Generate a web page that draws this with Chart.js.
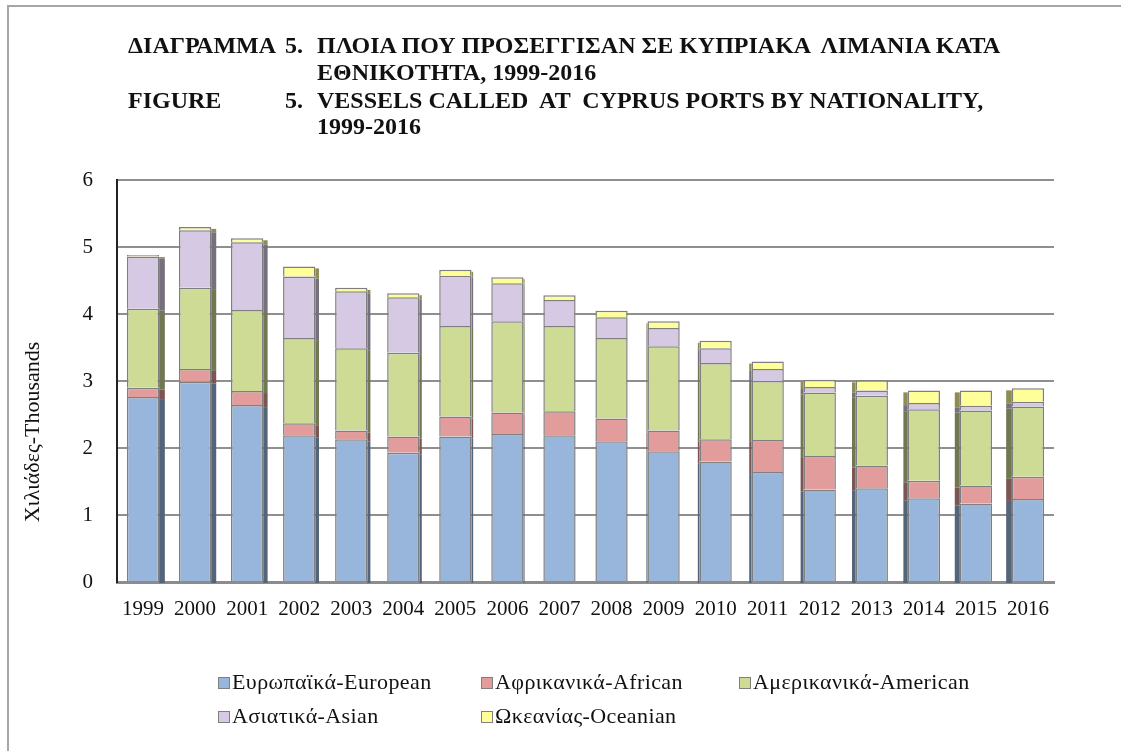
<!DOCTYPE html>
<html lang="el">
<head>
    <meta charset="UTF-8">
    <title>Vessels called at Cyprus ports by nationality</title>
    <script src="https://cdn.jsdelivr.net/npm/chart.js@4"></script>
</head>
<style>
    body {
        margin: 0;
        background-color: #ffffff;
    }

    .wrap {
        position: relative;
        width: 1121px;
        height: 751px;
        font-family: 'Liberation Serif', 'DejaVu Serif', serif;
        color: #111111;
    }

    .frame {
        position: absolute;
        left: 7px;
        top: 5px;
        right: 0;
        bottom: 0;
        border-top: 2px solid #a6a6a6;
        border-left: 2px solid #a6a6a6;
    }

    canvas {
        position: absolute;
        left: 0;
        top: 0;
    }

    .t {
        position: absolute;
        font-weight: bold;
        font-size: 24px;
        line-height: 1;
        white-space: pre;
    }

    .ytitle {
        position: absolute;
        left: 32px;
        top: 432px;
        font-size: 22px;
        white-space: nowrap;
        transform: translate(-50%, -50%) rotate(-90deg);
    }

    .leg {
        position: absolute;
        font-size: 22px;
        letter-spacing: 0.4px;
        line-height: 1;
        white-space: nowrap;
    }

    .leg i {
        display: inline-block;
        width: 10px;
        height: 10px;
        border: 1px solid #7f7f7f;
        margin-right: 2px;
        vertical-align: 0px;
    }
</style>
<body>
    <div class="wrap">
        <canvas id="chart" width="1121" height="751"></canvas>
        <div class="frame"></div>

        <div class="t" style="left:128px; top:33px;">ΔΙΑΓΡΑΜΜΑ</div>
        <div class="t" style="left:285px; top:33px;">5.</div>
        <div class="t" style="left:317px; top:33px;">ΠΛΟΙΑ ΠΟΥ ΠΡΟΣΕΓΓΙΣΑΝ ΣΕ ΚΥΠΡΙΑΚΑ  ΛΙΜΑΝΙΑ ΚΑΤΑ</div>
        <div class="t" style="left:317px; top:60px;">ΕΘΝΙΚΟΤΗΤΑ, 1999-2016</div>
        <div class="t" style="left:128px; top:88px;">FIGURE</div>
        <div class="t" style="left:285px; top:88px;">5.</div>
        <div class="t" style="left:317px; top:88px;">VESSELS CALLED  AT  CYPRUS PORTS BY NATIONALITY,</div>
        <div class="t" style="left:317px; top:114px;">1999-2016</div>

        <div class="ytitle">Χιλιάδες-Thousands</div>

        <div id="legend"></div>
    </div>

    <script>
        const years = ['1999', '2000', '2001', '2002', '2003', '2004', '2005', '2006', '2007',
                       '2008', '2009', '2010', '2011', '2012', '2013', '2014', '2015', '2016'];

        // thousands of vessels
        const european = [2.76, 2.99, 2.64, 2.19, 2.13, 1.93, 2.17, 2.21, 2.19, 2.10, 1.95, 1.80, 1.64, 1.38, 1.40, 1.25, 1.17, 1.24];
        const african  = [0.14, 0.19, 0.21, 0.18, 0.13, 0.24, 0.30, 0.32, 0.36, 0.34, 0.31, 0.33, 0.48, 0.50, 0.34, 0.26, 0.27, 0.33];
        const american = [1.18, 1.21, 1.21, 1.27, 1.23, 1.25, 1.35, 1.36, 1.27, 1.20, 1.26, 1.14, 0.88, 0.95, 1.04, 1.07, 1.12, 1.05];
        const asian    = [0.78, 0.86, 1.01, 0.92, 0.85, 0.83, 0.75, 0.57, 0.39, 0.31, 0.27, 0.22, 0.18, 0.08, 0.08, 0.09, 0.07, 0.07];
        const oceanian = [0.02, 0.05, 0.06, 0.15, 0.05, 0.06, 0.09, 0.09, 0.07, 0.10, 0.10, 0.11, 0.11, 0.11, 0.15, 0.19, 0.23, 0.20];

        const seriesNames = ['Ευρωπαϊκά-European', 'Αφρικανικά-African', 'Αμερικανικά-American',
                             'Ασιατικά-Asian', 'Ωκεανίας-Oceanian'];
        const seriesColors = ['#98b6dc', '#e29c9b', '#cddb94', '#d6c9e4', '#ffff99'];
        const yTicks = [0, 1, 2, 3, 4, 5, 6];

        // legend placement (two rows, like the original)
        const legendPos = [[218, 671], [481, 671], [739, 671], [218, 705], [481, 705]];
        const legendDiv = document.getElementById('legend');
        seriesNames.forEach((name, i) => {
            const d = document.createElement('div');
            d.className = 'leg';
            d.style.left = legendPos[i][0] + 'px';
            d.style.top = legendPos[i][1] + 'px';
            d.innerHTML = '<i style="background:' + seriesColors[i] + '"></i>' + name;
            legendDiv.appendChild(d);
        });

        function shade(hex, f) {
            const n = parseInt(hex.slice(1), 16);
            const r = Math.round(((n >> 16) & 255) * f);
            const g = Math.round(((n >> 8) & 255) * f);
            const b = Math.round((n & 255) * f);
            return 'rgb(' + r + ',' + g + ',' + b + ')';
        }

        // thin side faces so the bars keep a bit of the old 3D look
        const sideFaces = {
            id: 'sideFaces',
            beforeDatasetsDraw(chart) {
                const ctx = chart.ctx;
                const area = chart.chartArea;
                const mid = (area.left + area.right) / 2;
                ctx.save();
                chart.data.datasets.forEach((ds, di) => {
                    const meta = chart.getDatasetMeta(di);
                    meta.data.forEach(bar => {
                        const half = bar.width / 2;
                        const depth = 6 * (mid - bar.x) / (mid - area.left);
                        const top = Math.min(bar.y, bar.base);
                        const h = Math.abs(bar.base - bar.y);
                        ctx.fillStyle = shade(ds.backgroundColor, 0.55);
                        if (depth > 0.8) {
                            ctx.fillRect(bar.x + half, top + 2, depth, h);
                        } else if (depth < -0.8) {
                            ctx.fillRect(bar.x - half + depth, top + 2, -depth, h);
                        }
                    });
                });
                ctx.restore();
            }
        };

        const datasets = [european, african, american, asian, oceanian].map((values, i) => ({
            label: seriesNames[i],
            data: values,
            backgroundColor: seriesColors[i],
            borderColor: '#7f7f7f',
            borderWidth: 1.5,
            barPercentage: 0.62,
            categoryPercentage: 1.0
        }));

        const ctx = document.getElementById('chart').getContext('2d');
        new Chart(ctx, {
            type: 'bar',
            data: {
                labels: years,
                datasets: datasets
            },
            plugins: [sideFaces],
            options: {
                responsive: false,
                animation: false,
                layout: {
                    padding: { left: 57, right: 67, top: 180, bottom: 129 }
                },
                scales: {
                    x: {
                        stacked: true,
                        afterFit: scale => { scale.height = 40; },
                        grid: { display: false, drawTicks: false },
                        border: { color: '#8c8c8c', width: 3 },
                        ticks: {
                            padding: 15,
                            color: '#111111',
                            font: { family: 'Liberation Serif', size: 21 }
                        }
                    },
                    y: {
                        stacked: true,
                        min: 0,
                        max: 6,
                        afterFit: scale => { scale.width = 60; },
                        afterBuildTicks: scale => {
                            scale.ticks = yTicks.map(v => ({ value: v }));
                        },
                        grid: { color: '#8f8f8f', lineWidth: 2, drawTicks: false },
                        border: { color: '#222222', width: 2 },
                        ticks: {
                            padding: 24,
                            color: '#111111',
                            font: { family: 'Liberation Serif', size: 21 }
                        }
                    }
                },
                plugins: {
                    legend: { display: false },
                    tooltip: { enabled: false }
                }
            }
        });
    </script>
</body>
</html>
